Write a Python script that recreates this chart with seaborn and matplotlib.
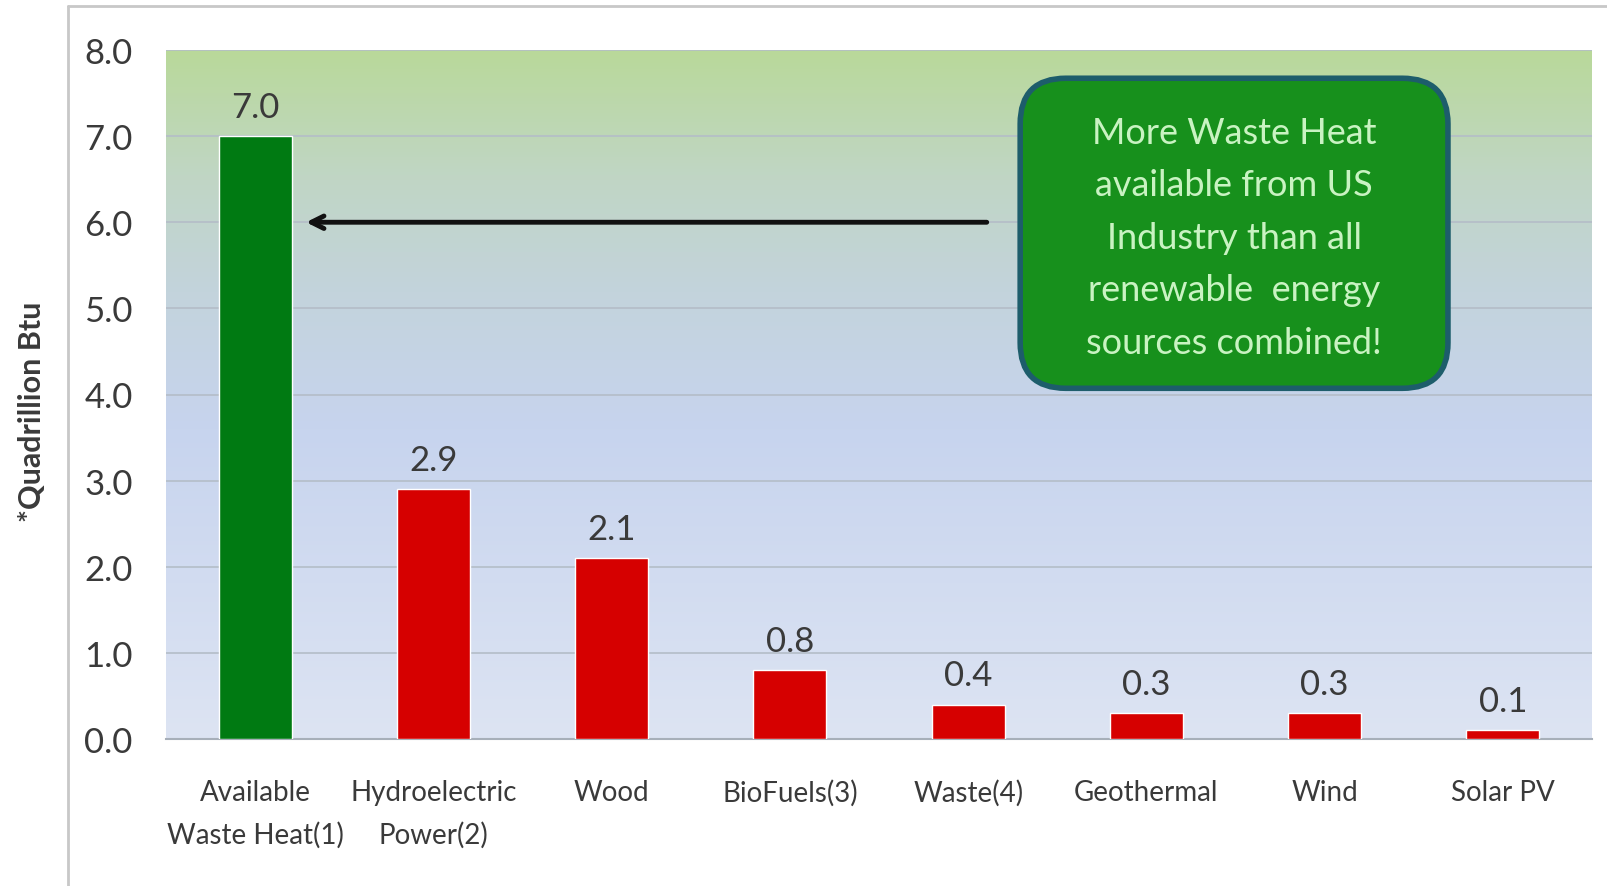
import numpy as np
import pandas as pd
import matplotlib
matplotlib.use("Agg")
import matplotlib.pyplot as plt
import seaborn as sns
from matplotlib.colors import LinearSegmentedColormap
from matplotlib.patches import FancyBboxPatch
from matplotlib.lines import Line2D

# Data
categories = ["Available\nWaste Heat(1)", "Hydroelectric\nPower(2)", "Wood", "BioFuels(3)",
              "Waste(4)", "Geothermal", "Wind", "Solar PV"]
values = [7.0, 2.9, 2.1, 0.8, 0.4, 0.3, 0.3, 0.1]
bar_colors = ["#007a12", "#d60000", "#d60000", "#d60000", "#d60000", "#d60000", "#d60000", "#d60000"]
y_ticks = [0.0, 1.0, 2.0, 3.0, 4.0, 5.0, 6.0, 7.0, 8.0]
callout = "More Waste Heat\navailable from US\nIndustry than all\nrenewable  energy\nsources combined!"

df = pd.DataFrame({"source": categories, "value": values})

sns.set_style("white")
plt.rcParams["font.family"] = ["Lato", "DejaVu Sans"]

fig = plt.figure(figsize=(16.07, 8.87), dpi=100)
ax = fig.add_axes([166 / 1607, 1 - 740 / 887, 1426 / 1607, 689 / 887])

# gradient background: green at top, blue in the middle, pale at bottom
grad_cmap = LinearSegmentedColormap.from_list(
    "bg", [(0.0, "#dde4f3"), (0.45, "#c7d4ee"), (0.65, "#c3d3dc"), (0.82, "#c0d6c4"), (1.0, "#b9d99a")])
grad = np.linspace(0, 1, 256).reshape(-1, 1)
ax.imshow(grad, cmap=grad_cmap, origin="lower", aspect="auto",
          extent=[-0.5, 7.5, 0, 8], zorder=0)

for yt in y_ticks[1:]:
    ax.axhline(yt, color="#b4bdc8", lw=1.2, zorder=1)

sns.barplot(data=df, x="source", y="value", hue="source", palette=bar_colors,
            legend=False, width=0.41, saturation=1, ax=ax, zorder=3)

for cont in ax.containers:
    ax.bar_label(cont, fmt="%.1f", padding=9.5, fontsize=25, color="#3a3a3a")

ax.set_xlim(-0.5, 7.5)
ax.set_ylim(0, 8)
ax.set_yticks(y_ticks)
ax.set_yticklabels([f"{v:.1f}" for v in y_ticks])
ax.tick_params(axis="y", length=0, pad=24, labelsize=25, labelcolor="#3a3a3a")
ax.tick_params(axis="x", length=0, pad=29, labelsize=20, labelcolor="#3a3a3a")
for lab in ax.get_xticklabels():
    lab.set_linespacing(1.7)
ax.set_xlabel("")
ax.set_ylabel("*Quadrillion Btu", fontsize=22, fontweight="bold", color="#3a3a3a")
ax.yaxis.set_label_coords(-0.084, 0.476)

for s in ["top", "right", "left"]:
    ax.spines[s].set_visible(False)
ax.spines["bottom"].set_color("#a7afb9")
ax.spines["bottom"].set_linewidth(1.5)

# arrow pointing at the waste heat bar
ax.annotate("", xy=(0.27, 6.0), xytext=(4.12, 6.0),
            arrowprops=dict(arrowstyle="->,head_length=0.9,head_width=0.45", lw=3.5, color="#111111"),
            zorder=5)

# rounded callout box
box = FancyBboxPatch((0.599, 0.509), 0.30, 0.45, transform=ax.transAxes,
                     boxstyle="round,pad=0,rounding_size=0.032", mutation_aspect=1426 / 689,
                     facecolor="#17901c", edgecolor="#1d5d6b", lw=4, zorder=6)
ax.add_patch(box)
ax.text(0.749, 0.728, callout, transform=ax.transAxes, ha="center", va="center",
        fontsize=26, color="#c9f3c2", linespacing=1.72, zorder=7)

# outer frame (left and top edges)
fig.add_artist(Line2D([68 / 1607, 68 / 1607], [0, 1 - 7 / 887], color="#c8c8c8", lw=2))
fig.add_artist(Line2D([68 / 1607, 1], [1 - 7 / 887, 1 - 7 / 887], color="#c8c8c8", lw=2))

fig.savefig("out.png", dpi=100)
